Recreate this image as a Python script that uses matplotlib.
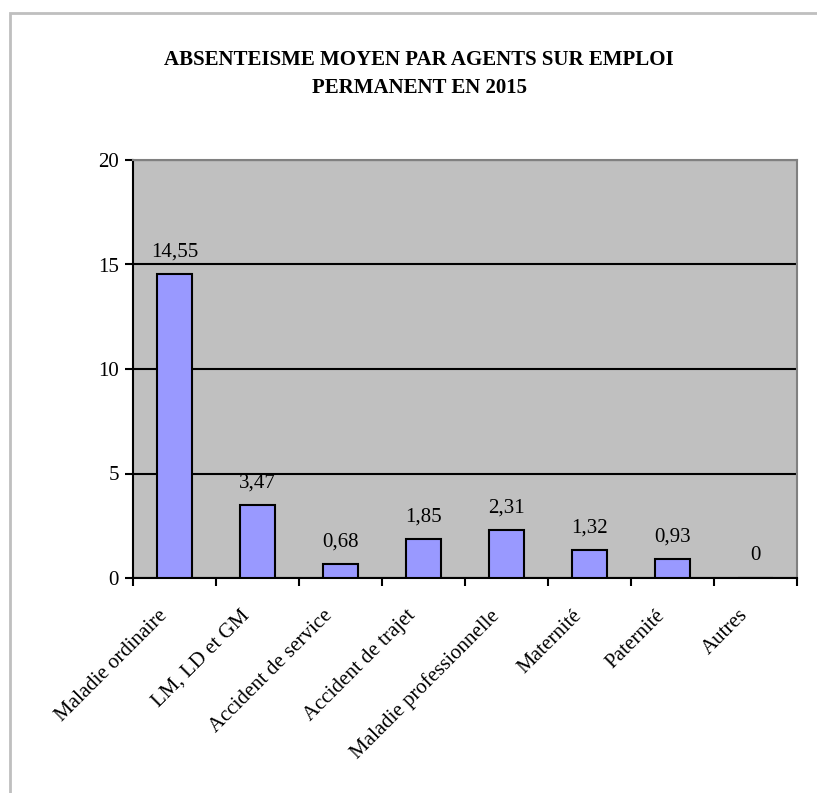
import matplotlib.pyplot as plt
from matplotlib.patches import Rectangle
from matplotlib.transforms import ScaledTranslation

# data
categories = ["Maladie ordinaire", "LM, LD et GM", "Accident de service",
              "Accident de trajet", "Maladie professionnelle", "Maternité",
              "Paternité", "Autres"]
values = [14.55, 3.47, 0.68, 1.85, 2.31, 1.32, 0.93, 0]
value_labels = ["14,55", "3,47", "0,68", "1,85", "2,31", "1,32", "0,93", "0"]
yticks = [0, 5, 10, 15, 20]

plt.rcParams['font.family'] = ['Liberation Serif', 'DejaVu Serif']

fig = plt.figure(figsize=(8.17, 7.93), dpi=100)
ax = fig.add_axes([133/817, 1 - 578/793, 664/817, 418/793])

# outer chart border (left + top visible)
fig.patches.append(Rectangle((10/817, -0.1), 1.2, (793 - 13)/793 + 0.1,
                             transform=fig.transFigure, fill=False,
                             edgecolor="#BFBFBF", lw=2))

ax.set_facecolor("#C0C0C0")
x = list(range(len(categories)))
ax.bar(x, values, width=0.41, color="#9999FF", edgecolor="black", lw=1.5, zorder=3)

for xi, v, lab in zip(x, values, value_labels):
    ax.annotate(lab, (xi, v), xytext=(0, 9), textcoords="offset points",
                ha="center", va="bottom", fontsize=15)

ax.set_xlim(-0.5, len(categories) - 0.5)
ax.set_ylim(0, 20)
ax.set_yticks(yticks)
ax.yaxis.grid(True, color="black", lw=1.5, zorder=1)
ax.set_axisbelow(True)
ax.tick_params(axis="y", labelsize=15, length=6, width=1.5, pad=4)

# ticks between categories, labels at centres
ax.set_xticks([i - 0.5 for i in range(len(categories) + 1)])
ax.set_xticklabels([])
ax.set_xticks(x, minor=True)
ax.set_xticklabels(categories, minor=True, rotation=45, ha="right",
                   rotation_mode="anchor", fontsize=15)
ax.tick_params(axis="x", which="major", length=6, width=1.5)
ax.tick_params(axis="x", which="minor", length=0, pad=10)
shift = ScaledTranslation(-17/100, -14/100, fig.dpi_scale_trans)
for t in ax.get_xticklabels(minor=True):
    t.set_transform(t.get_transform() + shift)

for s in ["left", "bottom"]:
    ax.spines[s].set_color("black")
    ax.spines[s].set_linewidth(1.5)
for s in ["top", "right"]:
    ax.spines[s].set_color("#808080")
    ax.spines[s].set_linewidth(1.5)

fig.text(419/817, 1 - 74/793, "ABSENTEISME MOYEN PAR AGENTS SUR EMPLOI\nPERMANENT EN 2015",
         ha="center", va="center", fontsize=15, fontweight="bold", linespacing=1.5)

fig.savefig("out.png", dpi=100)
